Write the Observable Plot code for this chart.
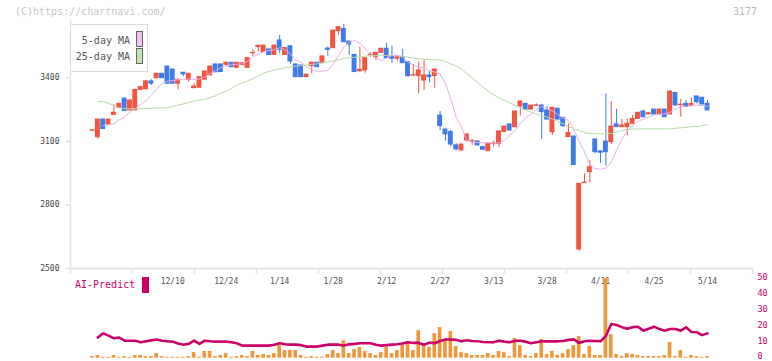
<!DOCTYPE html>
<html><head><meta charset="utf-8">
<script src="https://cdn.jsdelivr.net/npm/d3@7"></script>
<script src="https://cdn.jsdelivr.net/npm/@observablehq/plot@0.6"></script>
<style>
html,body{margin:0;padding:0;background:#fff;}
#wrap{position:relative;width:772px;height:361px;overflow:hidden;font-family:"DejaVu Sans Mono",monospace;background:#fff;}
.abs{position:absolute;white-space:nowrap;line-height:1;}
#wrap svg{position:absolute;left:0;overflow:visible;}
</style></head><body><div id="wrap"></div>
<script>
// ---- data ----
const dates = ["11/19","11/20","11/21","11/22","11/25","11/26","11/27","11/28","11/29","12/2",
"12/3","12/4","12/5","12/6","12/9","12/10","12/11","12/12","12/13","12/16",
"12/17","12/18","12/19","12/20","12/23","12/24","12/25","12/26","12/27","12/30",
"1/6","1/7","1/8","1/9","1/10","1/14","1/15","1/16","1/17","1/20",
"1/21","1/22","1/23","1/24","1/27","1/28","1/29","1/30","1/31","2/3",
"2/4","2/5","2/6","2/7","2/10","2/12","2/13","2/14","2/17","2/18",
"2/19","2/20","2/21","2/25","2/26","2/27","2/28","3/3","3/4","3/5",
"3/6","3/7","3/10","3/11","3/12","3/13","3/14","3/17","3/18","3/19",
"3/21","3/24","3/25","3/26","3/27","3/28","3/31","4/1","4/2","4/3",
"4/4","4/7","4/8","4/9","4/10","4/11","4/14","4/15","4/16","4/17",
"4/18","4/21","4/22","4/23","4/24","4/25","4/28","4/30","5/1","5/2",
"5/7","5/8","5/9","5/12","5/13","5/14"];
const labelIdx = [15,25,35,45,55,65,75,85,95,105,115];
const yTicks = [2500,2800,3100,3400];
const aiTicks = [0,10,20,30,40,50];

const open = [3150,3120,3203,3180,3225,3258,3302,3246,3246,3343,
3346,3383,3398,3419,3453,3439,3372,3424,3391,3351,
3353,3391,3411,3463,3463,3461,3471,3447,3460,3447,
3516,3545,3521,3534,3508,3576,3508,3549,3463,3458,
3403,3455,3471,3469,3538,3540,3620,3631,3571,3508,
3431,3435,3507,3497,3518,3537,3502,3490,3497,3474,
3410,3408,3387,3411,3408,3222,3156,3144,3081,3057,
3104,3099,3100,3073,3054,3088,3088,3144,3180,3167,
3265,3277,3250,3268,3269,3246,3143,3254,3211,3120,
3123,2590,2903,2955,3109,3053,3099,3096,3180,3167,
3167,3183,3206,3241,3227,3250,3227,3250,3227,3329,
3271,3277,3266,3312,3306,3277];
const high = [3153,3204,3204,3204,3274,3278,3303,3294,3345,3357,
3387,3391,3420,3421,3455,3440,3393,3425,3420,3372,
3404,3431,3456,3464,3464,3472,3472,3472,3470,3494,
3532,3553,3553,3535,3553,3600,3541,3552,3464,3460,
3416,3474,3472,3502,3545,3624,3642,3652,3572,3510,
3545,3491,3518,3519,3538,3563,3548,3498,3534,3475,
3463,3474,3486,3430,3440,3241,3157,3151,3089,3087,
3134,3109,3101,3077,3090,3100,3148,3171,3181,3243,
3289,3278,3270,3277,3274,3265,3260,3255,3212,3183,
3124,2901,2947,3010,3110,3054,3324,3288,3251,3203,
3203,3222,3236,3246,3234,3251,3251,3251,3340,3330,
3298,3293,3304,3313,3307,3293];
const low = [3148,3110,3157,3179,3224,3257,3242,3243,3245,3340,
3345,3364,3397,3397,3371,3371,3343,3406,3379,3349,
3352,3390,3410,3426,3426,3455,3449,3446,3459,3446,
3501,3521,3520,3507,3507,3513,3507,3463,3402,3402,
3402,3419,3449,3468,3501,3539,3600,3567,3505,3425,
3427,3422,3497,3482,3517,3492,3469,3478,3468,3403,
3409,3324,3340,3375,3351,3151,3101,3073,3054,3055,
3096,3081,3079,3059,3052,3073,3070,3143,3150,3165,
3219,3249,3249,3265,3109,3202,3128,3202,3167,3119,
2986,2582,2902,2903,3041,2997,2983,3085,3166,3166,
3125,3182,3205,3211,3226,3226,3226,3213,3226,3266,
3214,3261,3265,3277,3273,3245];
const close = [3152,3203,3158,3203,3235,3277,3243,3293,3343,3356,
3383,3372,3419,3398,3372,3372,3391,3416,3419,3359,
3403,3430,3453,3426,3427,3471,3450,3471,3469,3493,
3518,3552,3552,3508,3552,3532,3540,3477,3403,3403,
3415,3471,3450,3501,3532,3623,3639,3568,3557,3427,
3438,3493,3509,3518,3537,3493,3490,3497,3469,3408,
3412,3435,3411,3403,3439,3172,3133,3085,3062,3085,
3133,3101,3081,3060,3089,3090,3147,3170,3151,3241,
3288,3250,3269,3270,3238,3203,3258,3203,3172,3140,
2988,2900,2905,2978,3049,3046,3049,3170,3167,3175,
3183,3206,3235,3214,3233,3227,3250,3214,3335,3269,
3273,3262,3277,3285,3274,3246];
const ma5 = [null,null,3175,3178,3183,3202,3214,3238,3254,3274,
3293,3317,3348,3372,3384,3387,3391,3392,3395,3392,
3394,3403,3419,3435,3447,3457,3461,3464,3466,3479,
3497,3513,3523,3529,3532,3542,3532,3513,3482,3474,
3453,3438,3431,3431,3435,3466,3505,3545,3568,3576,
3564,3537,3513,3494,3482,3494,3505,3508,3497,3474,
3461,3450,3446,3435,3427,3419,3372,3301,3214,3167,
3104,3096,3095,3093,3093,3092,3092,3104,3128,3151,
3183,3211,3230,3249,3265,3254,3243,3227,3211,3199,
3159,3100,3050,2990,2972,2968,2975,3000,3060,3110,
3150,3175,3195,3205,3215,3225,3228,3230,3236,3252,
3262,3266,3269,3271,3269,3266];
const ma25 = [null,3288,3287,3280,3268,3258,3254,3254,3254,3254,
3255,3257,3257,3258,3258,3265,3271,3277,3284,3290,
3295,3299,3306,3315,3328,3337,3350,3365,3376,3386,
3395,3409,3422,3430,3436,3442,3447,3452,3455,3458,
3461,3463,3466,3471,3475,3479,3485,3491,3494,3497,
3501,3502,3504,3505,3505,3505,3505,3504,3502,3497,
3493,3490,3488,3486,3485,3485,3475,3466,3455,3442,
3419,3400,3378,3356,3337,3320,3305,3294,3283,3271,
3259,3248,3238,3229,3222,3214,3205,3194,3183,3170,
3159,3151,3142,3137,3136,3136,3136,3137,3144,3151,
3155,3158,3158,3159,3159,3159,3159,3159,3159,3162,
3164,3166,3169,3170,3175,3178];
const volume = [1.0,1.7,0.6,0.6,1.7,0.6,1,0.6,1.7,1.7,
1,1,2.9,1,0.6,0.6,0.6,0.6,1,3.5,
0.6,4.2,4.2,1,1.7,2.9,0.6,1,1.7,1,
4.2,1.7,2.3,1.7,2.9,7.9,4.8,4.8,4.8,1.7,
0.6,1,0.6,0.6,2.3,4.8,2.9,11,2.9,5.4,
6.7,4.2,2.9,1.7,3.5,6.7,2.9,4.8,8,10.4,
4.8,17.3,9,6.7,15.4,19.2,11,16.7,7.3,3.5,
2.9,1.7,1.7,1.7,2.9,1.7,4.2,3.5,1,12.3,
7.9,1.7,1,2.9,11.7,2.3,4.2,1.7,2.9,5.4,
7.9,13.5,2.3,7.3,1.7,1.7,50,14.8,2.3,1,
2.9,2.3,1.7,1,1,1,1,1.7,9.8,1,
4.8,0.6,1.7,1,0.6,1];
const aiPredict = [null,13,15.6,14.2,12.5,13,11,11,11,10,
10.6,11.2,11.7,11,10.6,10.4,9.2,8.5,9,11,
9,11,10.6,10.4,10.4,10.4,10,9.4,7.9,7.9,
7.9,7.9,7.9,7.9,8.5,9.4,8.8,8.5,8.5,8.2,
7.3,7.3,7.3,7.9,8.5,8.5,8.5,8,8.7,9,
9.4,9.4,9.4,8.5,7.9,8.2,8.5,8.8,9.2,10,
9.6,9.6,8.5,9.8,9.4,10.8,11.7,11.7,11.5,10.6,
11.3,10.8,10.6,10.2,10,10,11,10.4,10,11,
11,10.4,9.4,10,10.6,10.6,10.6,10.6,10.8,11.5,
11.8,9.6,10.6,11,10.8,10.6,14,21.5,20.8,19.5,
18.5,19.5,19.8,17.3,18.5,19.8,18.3,17.3,18.3,18.3,
17.3,19.4,16.5,16.3,14.5,15.6];

// ---- styles ----
const RED = "#f25441", BLUE = "#3f7cea";
const PINK = "#e6b0ea", GREEN = "#b6dca6";
const AXIS = "#e4e4e4";

const rows = dates.map((d, i) => ({i, date: d, open: open[i], high: high[i], low: low[i], close: close[i],
  ma5: ma5[i], ma25: ma25[i], vol: volume[i], ai: aiPredict[i]}));
const col = d => d.close >= d.open ? RED : BLUE;

const xOpts = {domain: [0, dates.length - 1], range: [92, 707]};
const sx = d3.scaleLinear(xOpts.domain, xOpts.range);
const gridTicks = d3.range(12).map(k => sx.invert(70 + k * 62));

const wrap = document.getElementById("wrap");

const main = Plot.plot({
  width: 772, height: 292,
  marginLeft: 70, marginRight: 20, marginTop: 20, marginBottom: 24,
  style: {fontFamily: "DejaVu Sans Mono, monospace", fontSize: "8px", background: "transparent", overflow: "visible"},
  x: {...xOpts, axis: null},
  y: {domain: [2500, 3400], range: [268, 77.3], axis: null},
  color: {type: "identity"},
  marks: [
    Plot.axisX({ticks: gridTicks, tickSize: 6, tickFormat: () => "", stroke: AXIS, strokeWidth: 1.5, label: null}),
    Plot.frame({anchor: "left", stroke: AXIS, strokeWidth: 1.6}),
    Plot.frame({anchor: "bottom", stroke: AXIS, strokeWidth: 1.8}),
    Plot.axisY({ticks: yTicks, tickSize: 5, tickPadding: 6, tickFormat: d => String(d), stroke: AXIS, strokeWidth: 1.5, fill: "#444", fontSize: 8, label: null}),
    Plot.axisX({ticks: labelIdx, tickSize: 0, tickPadding: 10, tickFormat: i => dates[i], fill: "#555", fontSize: 8, label: null}),
    Plot.ruleX(rows, {x: "i", y1: "low", y2: "high", stroke: col, strokeWidth: 1}),
    Plot.rect(rows, {x1: d => d.i - 0.46, x2: d => d.i + 0.46, y1: "open", y2: "close", fill: col, insetTop: -0.5, insetBottom: -0.5}),
    Plot.line(rows, {filter: d => d.ma25 != null, x: "i", y: "ma25", stroke: GREEN, strokeWidth: 1}),
    Plot.line(rows, {filter: d => d.ma5 != null, x: "i", y: "ma5", stroke: PINK, strokeWidth: 1})
  ]
});
main.style.top = "0px";
wrap.appendChild(main);

const lower = Plot.plot({
  width: 772, height: 91,
  marginLeft: 70, marginRight: 20, marginTop: 0, marginBottom: 0,
  style: {fontFamily: "DejaVu Sans Mono, monospace", fontSize: "9px", background: "transparent", overflow: "visible"},
  x: {...xOpts, axis: null},
  y: {domain: [0, 50], range: [87.7, 8.1], axis: null},
  marks: [
    Plot.rect(rows, {x1: d => d.i - 0.34, x2: d => d.i + 0.34, y1: 0, y2: "vol", fill: "#f0963c"}),
    Plot.line(rows, {filter: d => d.ai != null, x: "i", y: "ai", stroke: "#cc0066", strokeWidth: 2.6}),
    Plot.axisY({anchor: "right", ticks: aiTicks, tickSize: 0, tickPadding: 5, dy: -1.5, fill: "#cc0066", fontSize: 8.5, label: null})
  ]
});
lower.style.top = "270px";
wrap.appendChild(lower);

// ---- texts & legend ----
function addText(txt, css) {
  const el = document.createElement("div");
  el.className = "abs";
  el.textContent = txt;
  Object.assign(el.style, css);
  wrap.appendChild(el);
  return el;
}
addText("(C)https://chartnavi.com/", {left: "15px", top: "7px", fontSize: "10px", color: "#c8c8c8"});
addText("3177", {left: "733px", top: "7px", fontSize: "10px", color: "#bbb"});
addText("AI-Predict", {left: "75px", top: "280px", fontSize: "10px", color: "#cc0066"});
const sq = document.createElement("div");
sq.className = "abs";
Object.assign(sq.style, {left: "142px", top: "277px", width: "7px", height: "16px", background: "#cc0066"});
wrap.appendChild(sq);

const leg = document.createElement("div");
leg.className = "abs";
Object.assign(leg.style, {left: "70px", top: "24px", width: "76px", height: "46px", border: "1px solid #ddd", background: "#fff"});
wrap.appendChild(leg);
const legItems = [["5-day MA", PINK, "#f0c4f2"], ["25-day MA", GREEN, "#c4e2b6"]];
legItems.forEach(([name, c, fill], k) => {
  const t = document.createElement("div");
  t.className = "abs";
  t.textContent = name;
  Object.assign(t.style, {right: "17px", top: (11 + 16 * k) + "px", fontSize: "10px", color: "#555", textAlign: "right"});
  leg.appendChild(t);
  const s = document.createElement("div");
  s.className = "abs";
  Object.assign(s.style, {left: "65px", top: (6 + 16.5 * k) + "px", width: "5px", height: "14px", border: "1px solid #666", background: fill});
  leg.appendChild(s);
});
</script></body></html>
